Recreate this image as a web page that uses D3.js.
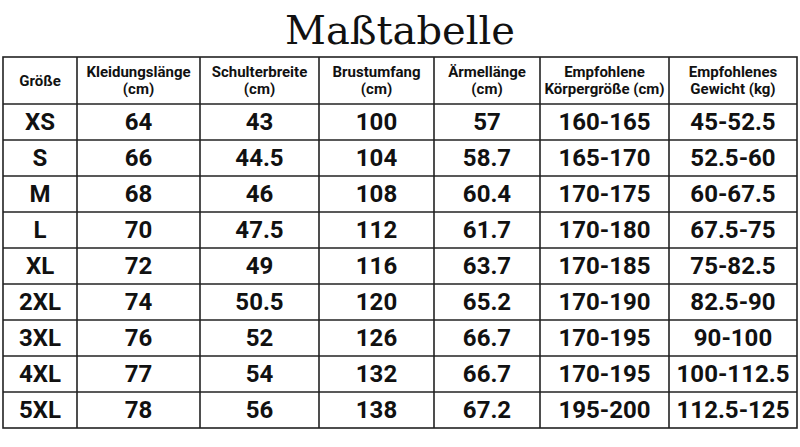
<!DOCTYPE html>
<html><head><meta charset="utf-8">
<script src="https://cdn.jsdelivr.net/npm/d3@7"></script>
<style>body{margin:0;background:#fff}</style>
</head><body><svg id="c" width="800" height="447"></svg>
<script>
const title = "Maßtabelle";
const headers = [["Größe"], ["Kleidungslänge", "(cm)"], ["Schulterbreite", "(cm)"], ["Brustumfang", "(cm)"],
  ["Ärmellänge", "(cm)"], ["Empfohlene", "Körpergröße (cm)"], ["Empfohlenes", "Gewicht (kg)"]];
const sizes = ["XS", "S", "M", "L", "XL", "2XL", "3XL", "4XL", "5XL"];
const laenge = ["64", "66", "68", "70", "72", "74", "76", "77", "78"];
const schulter = ["43", "44.5", "46", "47.5", "49", "50.5", "52", "54", "56"];
const brust = ["100", "104", "108", "112", "116", "120", "126", "132", "138"];
const aermel = ["57", "58.7", "60.4", "61.7", "63.7", "65.2", "66.7", "66.7", "67.2"];
const koerper = ["160-165", "165-170", "170-175", "170-180", "170-185", "170-190", "170-195", "170-195", "195-200"];
const gewicht = ["45-52.5", "52.5-60", "60-67.5", "67.5-75", "75-82.5", "82.5-90", "90-100", "100-112.5", "112.5-125"];

const columns = [sizes, laenge, schulter, brust, aermel, koerper, gewicht];
const colEdges = [3, 77, 200, 319, 434, 540, 669, 797];
const tableTop = 57, headBottom = 104, tableBottom = 428;
const font = "'Liberation Sans Narrow', 'Arial Narrow', 'Roboto', sans-serif";

const svg = d3.select("#c");
svg.append("text").attr("x", 400).attr("y", 44).attr("text-anchor", "middle")
  .attr("font-family", "'DejaVu Serif', 'Liberation Serif', serif").attr("font-size", 40)
  .attr("fill", "#111").text(title);

const y = d3.scaleBand().domain(d3.range(sizes.length)).range([headBottom, tableBottom]);

const g = svg.append("g").attr("stroke", "#222").attr("stroke-width", 1.6);
g.append("rect").attr("x", colEdges[0]).attr("y", tableTop)
  .attr("width", colEdges[colEdges.length - 1] - colEdges[0]).attr("height", tableBottom - tableTop).attr("fill", "none");
colEdges.slice(1, -1).forEach(x => g.append("line").attr("x1", x).attr("x2", x).attr("y1", tableTop).attr("y2", tableBottom));
[headBottom, ...d3.range(1, sizes.length).map(i => y(i))].forEach(v =>
  g.append("line").attr("x1", colEdges[0]).attr("x2", colEdges[colEdges.length - 1]).attr("y1", v).attr("y2", v));

headers.forEach((h, i) => {
  const cx = (colEdges[i] + colEdges[i + 1]) / 2;
  const t = svg.append("text").attr("text-anchor", "middle").attr("font-family", font)
    .attr("font-weight", "bold").attr("font-size", 15).attr("fill", "#111");
  const cy = (tableTop + headBottom) / 2;
  h.forEach((line, k) => {
    t.append("tspan").attr("x", cx).attr("y", cy + 5 + (k - (h.length - 1) / 2) * 17).text(line);
  });
});

columns.forEach((col, i) => {
  const cx = (colEdges[i] + colEdges[i + 1]) / 2;
  svg.append("g").selectAll("text").data(col).join("text")
    .attr("x", cx).attr("y", (d, j) => y(j) + y.bandwidth() / 2 + 8)
    .attr("text-anchor", "middle").attr("font-family", font).attr("font-weight", "bold")
    .attr("font-size", 24).attr("fill", "#111").text(d => d);
});
</script></body></html>
